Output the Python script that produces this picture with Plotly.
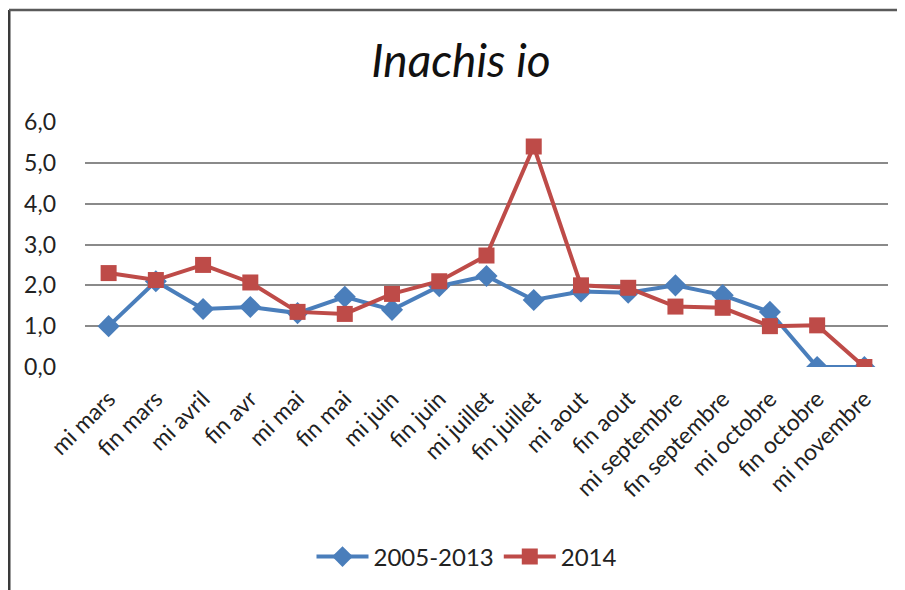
import plotly.graph_objects as go

categories = ["mi mars", "fin mars", "mi avril", "fin avr", "mi mai", "fin mai",
              "mi juin", "fin juin", "mi juillet", "fin juillet", "mi aout", "fin aout",
              "mi septembre", "fin septembre", "mi octobre", "fin octobre", "mi novembre"]
series_2005_2013 = [1.0, 2.1, 1.42, 1.47, 1.32, 1.72, 1.4, 1.98, 2.23, 1.64, 1.85, 1.82,
                    2.0, 1.76, 1.35, 0.0, 0.0]
series_2014 = [2.3, 2.13, 2.5, 2.07, 1.35, 1.3, 1.79, 2.1, 2.73, 5.4, 2.0, 1.94,
               1.48, 1.45, 1.0, 1.02, 0.0]
y_tickvals = [0, 1, 2, 3, 4, 5, 6]
y_ticktext = ["0,0", "1,0", "2,0", "3,0", "4,0", "5,0", "6,0"]

FONT = "Lato"
TXT = "#222222"

# the page body has an 8px margin; work in reference-pixel coordinates and shift
OFF = 8
W, H = 905 - OFF - 4, 590 - OFF
L, R, T, B = 85 - OFF, 13, 122 - OFF, 223
pw = W - L - R
ph = H - T - B

def px_to_paper_x(px):
    return (px - OFF - L) / pw

def px_to_paper_y(py):
    return (H - B - (py - OFF)) / ph

fig = go.Figure()
fig.add_trace(go.Scatter(
    x=categories, y=series_2005_2013, name="2005-2013", mode="lines+markers",
    line=dict(color="#4A7EBB", width=4),
    marker=dict(symbol="diamond", size=17, color="#4A7EBB"),
))
fig.add_trace(go.Scatter(
    x=categories, y=series_2014, name="2014", mode="lines+markers",
    line=dict(color="#BE4B48", width=4),
    marker=dict(symbol="square", size=16, color="#BE4B48"),
))

fig.update_layout(
    width=W, height=H,
    margin=dict(l=L, r=R, t=T, b=B, autoexpand=False),
    paper_bgcolor="white", plot_bgcolor="white",
    font=dict(family=FONT, color=TXT, size=22),
    title=dict(text="<i>Inachis io</i>", x=(461 - OFF) / W, xref="container", xanchor="center",
               y=1 - (61 - OFF) / H, yref="container", yanchor="middle",
               font=dict(family=FONT, size=46, color="#111")),
    xaxis=dict(
        type="category", range=[-0.5, len(categories) - 0.5],
        tickangle=-45, showgrid=False, showline=False, zeroline=False,
        ticks="", ticklabelstandoff=13,
        tickfont=dict(family=FONT, size=23, color=TXT),
    ),
    yaxis=dict(
        range=[0, 6], tickvals=y_tickvals, ticktext=y_ticktext,
        showgrid=True, gridcolor="#8A8A8A", gridwidth=1.5,
        zeroline=False, showline=False, ticks="", ticklabelstandoff=28,
        tickfont=dict(family=FONT, size=23, color=TXT),
    ),
    showlegend=True,
    legend=dict(
        orientation="h", x=px_to_paper_x(467), xanchor="center",
        y=px_to_paper_y(557), yanchor="middle",
        font=dict(family=FONT, size=24, color=TXT), itemwidth=52,
        bgcolor="rgba(0,0,0,0)",
    ),
)

# chart-area frame (left and top edges visible in the reference)
fig.add_shape(type="line", xref="paper", yref="paper",
              x0=px_to_paper_x(9), x1=px_to_paper_x(9),
              y0=px_to_paper_y(600), y1=px_to_paper_y(10),
              line=dict(color="#3A3A3A", width=3), layer="above")
fig.add_shape(type="line", xref="paper", yref="paper",
              x0=px_to_paper_x(9), x1=px_to_paper_x(920),
              y0=px_to_paper_y(10), y1=px_to_paper_y(10),
              line=dict(color="#5A5A5A", width=2.5), layer="above")

fig.write_html("out.html")
